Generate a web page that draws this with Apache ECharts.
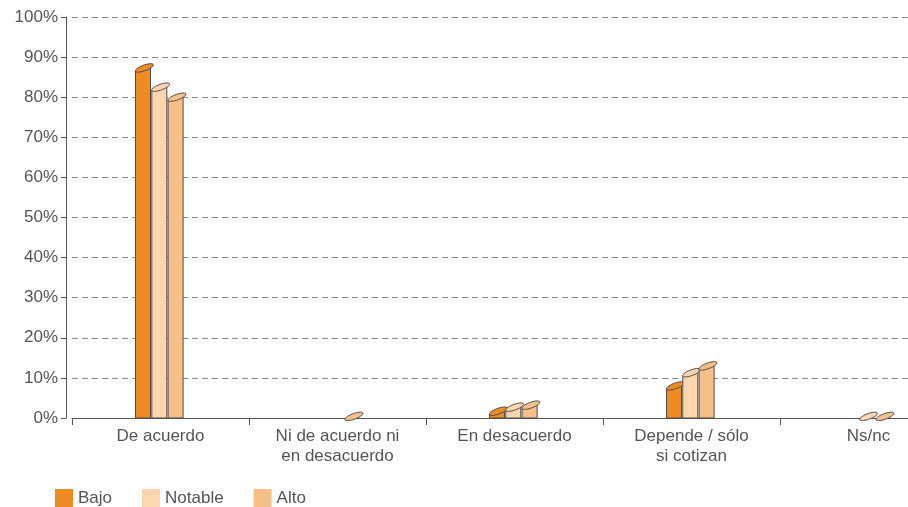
<!DOCTYPE html>
<html>
<head>
<meta charset="utf-8">
<script src="https://cdn.jsdelivr.net/npm/echarts@6/dist/echarts.min.js"></script>
<style>
  html, body { margin: 0; padding: 0; background: #fff; }
  #chart { width: 908px; height: 507px; }
</style>
</head>
<body>
<div id="chart"></div>
<script>
// categorias del eje x
const categories = ['De acuerdo', 'Ni de acuerdo ni\nen desacuerdo', 'En desacuerdo', 'Depende / sólo\nsi cotizan', 'Ns/nc']
const seriesNames = ['Bajo', 'Notable', 'Alto']
// porcentajes
const bajo = [87.3, 0, 1.7, 8, 0]
const notable = [82.5, 0, 2.7, 11.3, 0.4]
const alto = [80, 0.4, 3.2, 13, 0.4]
const yTicks = [0, 10, 20, 30, 40, 50, 60, 70, 80, 90, 100]

const colors = ['#EE8B22', '#FDD6B0', '#F7BF88']
const values = [bajo, notable, alto]

const chart = echarts.init(document.getElementById('chart'))

// barra con tapa inclinada (efecto 3D)
function makeRender (idx) {
  return function (params, api) {
    const ci = api.value(0)
    const v = api.value(1)
    if (!v) return
    const base = api.coord([ci, 0])
    const top = api.coord([ci, v])
    const w = 15
    const x0 = base[0] - 25 + idx * 16.3
    const a = 9
    const b = 3
    const s = 0.33
    const cx = x0 + w / 2 + 1.3
    const cy = top[1]
    const pts = []
    for (let k = 0; k < 32; k++) {
      const t = (k / 32) * Math.PI * 2
      const dx = a * Math.cos(t)
      pts.push([cx + dx, cy + b * Math.sin(t) - s * dx])
    }
    const style = { fill: colors[idx], stroke: '#4d4d4d', lineWidth: 1 }
    const children = []
    const yl = cy + s * (cx - x0)
    const yr = cy - s * (x0 + w - cx)
    if (base[1] > yl) {
      children.push({
        type: 'polygon',
        shape: { points: [[x0, base[1]], [x0, yl], [x0 + w, yr], [x0 + w, base[1]]] },
        style: style
      })
    }
    children.push({ type: 'polygon', shape: { points: pts }, style: style })
    return { type: 'group', children: children }
  }
}

const series = seriesNames.map(function (name, i) {
  return {
    name: name,
    type: 'custom',
    renderItem: makeRender(i),
    itemStyle: { color: colors[i] },
    encode: { x: 0, y: 1 },
    data: values[i].map(function (v, c) { return [c, v] })
  }
})

const option = {
  animation: false,
  backgroundColor: '#fff',
  textStyle: { fontFamily: 'Liberation Sans' },
  grid: { left: 72, top: 17, width: 885, height: 401, outerBoundsMode: 'none', containLabel: false },
  legend: {
    left: 55,
    top: 489,
    padding: 0,
    icon: 'rect',
    itemWidth: 18,
    itemHeight: 18,
    itemGap: 30,
    textStyle: { fontSize: 17, color: '#555', fontFamily: 'Liberation Sans' },
    data: seriesNames
  },
  xAxis: {
    type: 'category',
    data: categories,
    boundaryGap: true,
    axisLine: { lineStyle: { color: '#555', width: 1 } },
    axisTick: { show: true, length: 7, interval: 0, lineStyle: { color: '#555' } },
    axisLabel: { interval: 0, fontSize: 17, color: '#555', margin: 8, lineHeight: 20 }
  },
  yAxis: {
    type: 'value',
    min: yTicks[0],
    max: yTicks[yTicks.length - 1],
    interval: 10,
    offset: 6,
    axisLine: { show: true, lineStyle: { color: '#555', width: 1 } },
    axisTick: { show: true, length: 5, lineStyle: { color: '#555' } },
    axisLabel: { fontSize: 17, color: '#555', margin: 8, formatter: '{value}%' },
    splitLine: { show: true, lineStyle: { color: '#8a8a8a', type: [6, 4], width: 1 } }
  },
  series: series
}

chart.setOption(option)
</script>
</body>
</html>
